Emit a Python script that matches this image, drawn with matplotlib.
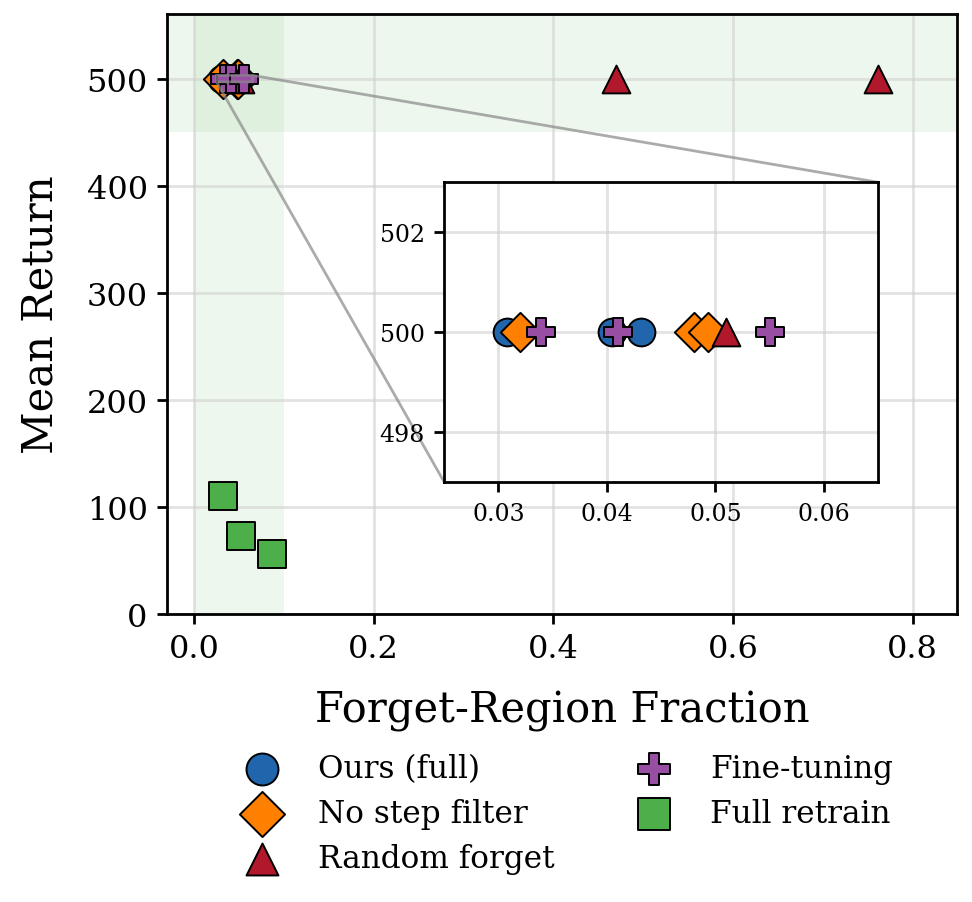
import matplotlib; matplotlib.use("Agg")
import matplotlib.pyplot as plt

plt.rcParams["font.family"] = "DejaVu Serif"

# ── Data ──────────────────────────────────────────────────────────────
methods = ["Ours (full)", "No step filter", "Random forget", "Fine-tuning", "Full retrain"]
ours_x    = [0.0308, 0.0405, 0.0431]
ours_y    = [500, 500, 500]
nostep_x  = [0.0320, 0.0480, 0.0493]
nostep_y  = [500, 500, 500]
random_x  = [0.0510, 0.470, 0.762]
random_y  = [500, 500, 500]
finetune_x = [0.0339, 0.0410, 0.0550]
finetune_y = [500, 500, 500]
retrain_x = [0.032, 0.052, 0.087]
retrain_y = [110, 73, 56]

series = [
    (ours_x, ours_y, "o", "#2166ac"),
    (nostep_x, nostep_y, "D", "#ff7f00"),
    (random_x, random_y, "^", "#b2182b"),
    (finetune_x, finetune_y, "P", "#984ea3"),
    (retrain_x, retrain_y, "s", "#4daf4a"),
]

fig = plt.figure(figsize=(4.86, 4.515), dpi=200)
ax = fig.add_axes([0.172, 0.319, 0.813, 0.664])

# shaded "good" regions
ax.axvspan(0.0, 0.1, color="#4daf4a", alpha=0.09, lw=0, zorder=0)
ax.axhspan(450, 560, color="#4daf4a", alpha=0.09, lw=0, zorder=0)

for (xs, ys, mk, col), name in zip(series, methods):
    ax.scatter(xs, ys, marker=mk, s=100, color=col, edgecolors="black",
               linewidths=0.7, label=name, zorder=3)

ax.set_xlim(-0.03, 0.85)
ax.set_ylim(0, 560)
ax.set_xticks([0.0, 0.2, 0.4, 0.6, 0.8])
ax.set_yticks([0, 100, 200, 300, 400, 500])
ax.grid(True, color="#d0d0d0", lw=1.0, alpha=0.6)
ax.set_axisbelow(True)
ax.tick_params(labelsize=11.5, width=1.0)
for sp in ax.spines.values():
    sp.set_linewidth(1.0)
ax.set_xlabel("Forget-Region Fraction", fontsize=15, labelpad=9)
ax.set_ylabel("Mean Return", fontsize=15, labelpad=9)

# ── Inset zoom on the cluster ─────────────────────────────────────────
axins = fig.add_axes([0.457, 0.465, 0.4465, 0.332])
for (xs, ys, mk, col), name in zip(series, methods):
    axins.scatter(xs, ys, marker=mk, s=100, color=col, edgecolors="black",
                  linewidths=0.7, zorder=3)
axins.set_xlim(0.025, 0.065)
axins.set_ylim(497, 503)
axins.set_xticks([0.03, 0.04, 0.05, 0.06])
axins.set_yticks([498, 500, 502])
axins.grid(True, color="#d0d0d0", lw=1.0, alpha=0.6)
axins.set_axisbelow(True)
axins.tick_params(labelsize=8.5, width=1.0)
for sp in axins.spines.values():
    sp.set_linewidth(1.0)

ax.indicate_inset_zoom(axins, edgecolor="#888888", alpha=0.7, linewidth=1.0)

leg = ax.legend(loc="upper center", bbox_to_anchor=(0.5, -0.185), ncol=2,
                frameon=False, fontsize=11.2, labelspacing=0.45, columnspacing=2.2,
                markerscale=1.15)

fig.savefig("out.png", dpi=200, facecolor="white")
